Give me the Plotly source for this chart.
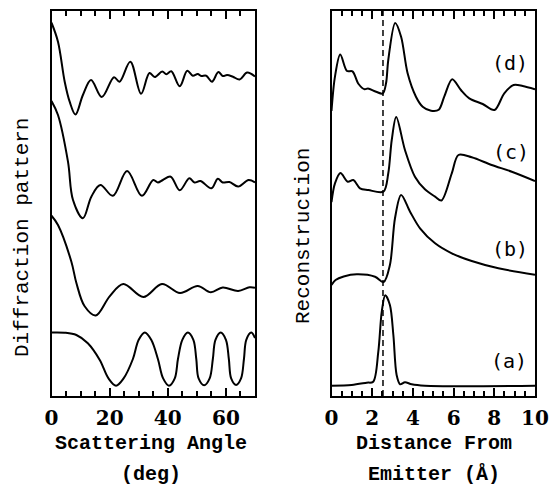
import plotly.graph_objects as go

W, H = 552, 486

# ---------------- Left panel: diffraction patterns (angle in deg, arbitrary offset units)
diff_a_x = [0, 2.23, 4.54, 6.25, 8.25, 10.8, 13.6, 17.3, 21.5, 23.4, 27.1, 30.8, 33.7, 35.5, 38.1, 39.5,
            41.2, 44.1, 46.7, 48.6, 50.3, 51.5, 53.2, 55.2, 57.4, 58.9, 60.4, 62.4, 64.7, 67.3, 70]
diff_a_y = [373.3, 354.3, 314.3, 294.3, 281.5, 301, 316, 299, 318.8, 314.3, 334.3, 302.2, 323, 319, 324.5, 321.7,
            324.7, 309.7, 325.2, 320.3, 322, 320, 320.3, 314.3, 324, 320, 321, 319.3, 316.5, 323.5, 319.5]

diff_b_x = [0, 2.23, 5.67, 7.4, 10.8, 13.7, 16.8, 21.1, 26, 31.1, 35, 36.6, 38.3, 41, 44.1, 47.4,
            49.2, 51.2, 55, 57.2, 58.9, 61.2, 64.2, 67.8, 70]
diff_b_y = [295, 281, 234.3, 196, 177.7, 199.3, 211, 200.2, 225, 200.2, 216, 213.5, 216, 219.3, 205.7, 217.7,
            213.5, 215, 207.7, 217.3, 213.5, 214, 209.5, 216, 213.5]

diff_c_x = [0, 2.23, 6.84, 8.56, 11.4, 15.2, 20, 24.7, 31.6, 38, 44.2, 50.3, 54.8, 58.9, 64.2, 68.1, 70]
diff_c_y = [180.3, 171, 134.3, 113, 89.7, 80.5, 99.7, 112, 99, 112, 103, 110, 103.7, 108.5, 105, 108.7, 108.3]

diff_d_x = [0, 4.5, 8.56, 12.5, 16.6, 19.6, 22.2, 24.8, 28, 30, 32.1, 34.3, 36.6, 38.4, 40.4, 42.4,
            43.5, 45, 46.9, 48.8, 49.8, 50.6, 52.5, 54.4, 55.5, 56.4, 58.2, 60, 61, 61.8, 63.5, 65.2,
            66.2, 67, 68.7, 70]
diff_d_y = [63.5, 63.3, 61, 52.7, 36, 17.6, 10.3, 17.6, 37, 56.2, 63.5, 56.2, 37, 17.6, 10.3, 17.6,
            37, 56.2, 63.5, 56.2, 37, 17.6, 10.7, 17.6, 37, 56.2, 63.5, 56.2, 37, 17.6, 11, 17.6,
            37, 56.2, 63.5, 58]

# ---------------- Right panel: reconstructions (distance in Angstrom)
rec_d_x = [0, 0.17, 0.43, 0.76, 1.03, 1.33, 1.63, 1.79, 2.19, 2.52, 2.68, 2.79, 3.13, 3.42, 3.74, 4.15,
           4.48, 4.89, 5.27, 5.54, 5.93, 6.36, 6.77, 7.43, 8.01, 8.49, 8.95, 9.4, 10]
rec_d_y = [285, 319.3, 341.5, 325, 324.7, 312, 306.7, 307.5, 304.3, 302.5, 312.7, 336, 373, 359.3, 322.7, 299.3,
           289.3, 285.3, 286.3, 299.3, 316.7, 306, 297.7, 292, 286, 302.7, 311, 310, 306.7]

rec_c_x = [0, 0.17, 0.44, 0.8, 1.07, 1.4, 1.81, 2.55, 2.79, 2.96, 3.18, 3.61, 4.1, 4.59, 5.09, 5.4,
           5.91, 6.24, 6.89, 7.87, 8.86, 10]
rec_c_y = [194, 212.7, 223, 214.3, 216, 207.7, 206, 204.3, 222.7, 256, 279, 246, 219.3, 206.7, 199.3, 195.5,
           222.7, 241, 238.7, 231, 224.3, 215]

rec_b_x = [0, 0.2, 0.6, 1.24, 2.14, 2.56, 2.87, 3.12, 3.42, 3.86, 4.35, 5.09, 5.91, 6.89, 8.2, 10]
rec_b_y = [111, 116, 119.5, 121.7, 119.3, 114, 131, 177.7, 201, 184.3, 167.7, 152.7, 142.7, 135, 127.7, 121.2]

rec_a_x = [0, 0.99, 1.73, 2.05, 2.3, 2.47, 2.64, 2.87, 3.04, 3.2, 3.37, 3.61, 3.94, 4.59, 10]
rec_a_y = [10.3, 11, 13.3, 14.3, 44.3, 84.3, 100.7, 91, 61, 21, 11.7, 13.7, 11.7, 10.3, 10.3]

bond_length = 2.53
curve_labels = ["(d)", "(c)", "(b)", "(a)"]
label_x = [8.75, 8.8, 8.77, 8.72]
label_y = [333, 243.5, 147, 34.7]

left_ticks = [0, 20, 40, 60]
right_ticks = [0, 2, 4, 6, 8, 10]

Y_MAX = 385

fig = go.Figure()
line_left = dict(color="black", width=2, shape="spline", smoothing=1.0)
line_right = dict(color="black", width=2, shape="spline", smoothing=0.9)
for xs, ys in [(diff_a_x, diff_a_y), (diff_b_x, diff_b_y), (diff_c_x, diff_c_y), (diff_d_x, diff_d_y)]:
    fig.add_trace(go.Scatter(x=xs, y=ys, mode="lines", line=line_left, xaxis="x", yaxis="y", showlegend=False,
                             hoverinfo="skip"))
for xs, ys in [(rec_d_x, rec_d_y), (rec_c_x, rec_c_y), (rec_b_x, rec_b_y), (rec_a_x, rec_a_y)]:
    fig.add_trace(go.Scatter(x=xs, y=ys, mode="lines", line=line_right, xaxis="x2", yaxis="y2",
                             showlegend=False, hoverinfo="skip"))
fig.add_trace(go.Scatter(x=[bond_length, bond_length], y=[0, Y_MAX], mode="lines",
                         line=dict(color="black", width=1.5, dash="6px,4px"),
                         xaxis="x2", yaxis="y2", showlegend=False, hoverinfo="skip"))

tickfont = dict(family="DejaVu Serif", size=20, color="black", weight="bold")
common_x = dict(showline=True, linecolor="black", linewidth=2, mirror="allticks", ticks="inside",
                ticklen=8, tickwidth=1.5, tickcolor="black", showgrid=False, zeroline=False,
                tickfont=tickfont, ticklabelstandoff=3, automargin=False)
common_y = dict(showline=True, linecolor="black", linewidth=2, mirror=True, ticks="", showticklabels=False,
                showgrid=False, zeroline=False, range=[0, Y_MAX], automargin=False)

ydom = [(H - 396) / H, (H - 11) / H]
fig.update_layout(
    width=W, height=H, margin=dict(l=0, r=0, t=0, b=0, autoexpand=False),
    paper_bgcolor="white", plot_bgcolor="white",
    xaxis=dict(domain=[51.5 / W, 255 / W], range=[0, 70], tickvals=left_ticks,
               minor=dict(dtick=5, ticks="inside", ticklen=5, tickwidth=1.5, tickcolor="black"),
               anchor="y", **common_x),
    yaxis=dict(domain=ydom, anchor="x", **common_y),
    xaxis2=dict(domain=[331.5 / W, 535 / W], range=[0, 10], tickvals=right_ticks,
                minor=dict(dtick=0.5, ticks="inside", ticklen=5, tickwidth=1.5, tickcolor="black"),
                anchor="y2", **common_x),
    yaxis2=dict(domain=ydom, anchor="x2", **common_y),
)

title_font = dict(family="Liberation Mono", size=20, color="black", weight="bold")
ytitle_font = dict(family="Liberation Mono", size=21, color="black")
ann = [
    dict(text="Scattering Angle", x=151 / W, y=1 - 443 / H, font=title_font),
    dict(text="(deg)", x=151 / W, y=1 - 474 / H, font=title_font),
    dict(text="Distance From", x=433.5 / W, y=1 - 443 / H, font=title_font),
    dict(text="Emitter (Å)", x=433.5 / W, y=1 - 474 / H, font=title_font),
    dict(text="Diffraction pattern", x=22 / W, y=1 - 238 / H, font=ytitle_font, textangle=-90),
    dict(text="Reconstruction", x=303 / W, y=1 - 236 / H, font=ytitle_font, textangle=-90),
]
for a in ann:
    a.update(xref="paper", yref="paper", showarrow=False, xanchor="center", yanchor="middle")
for t, lx, ly in zip(curve_labels, label_x, label_y):
    ann.append(dict(text=t, x=lx, y=ly, xref="x2", yref="y2", showarrow=False, xanchor="center",
                    yanchor="middle", font=dict(family="DejaVu Sans Mono", size=20, color="black")))
fig.update_layout(annotations=ann)

fig.write_html("out.html", config={"displayModeBar": False},
               post_script="document.body.style.margin='0';document.body.style.overflow='hidden';")
